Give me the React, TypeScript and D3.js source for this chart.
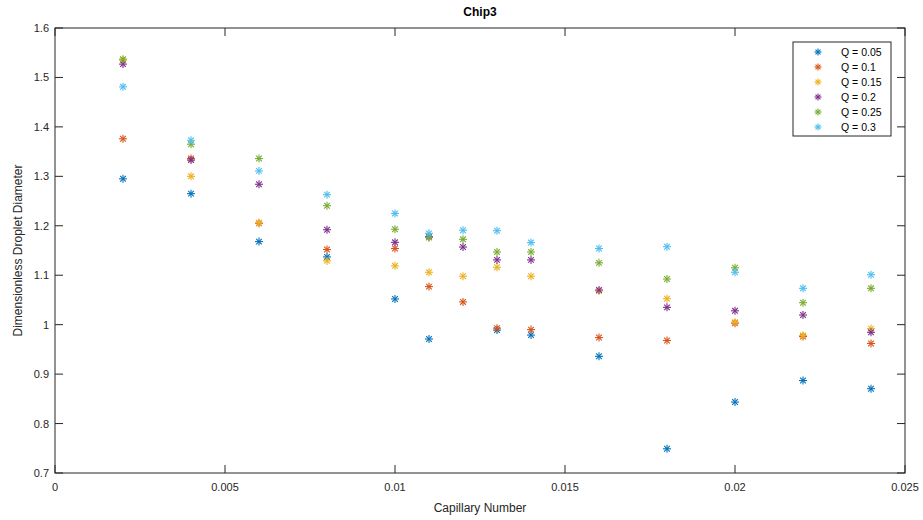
import React from "react";
import * as d3 from "d3";

// Capillary numbers at which droplet diameters were measured
const capillary = [0.002, 0.004, 0.006, 0.008, 0.01, 0.011, 0.012, 0.013, 0.014, 0.016, 0.018, 0.02, 0.022, 0.024];

// Dimensionless droplet diameter for each flow-rate ratio Q
const q005 = [1.295, 1.265, 1.168, 1.137, 1.052, 0.971, null, 0.989, 0.979, 0.936, 0.749, 0.8435, 0.887, 0.8705];
const q010 = [1.376, 1.336, 1.205, 1.152, 1.154, 1.077, 1.046, 0.993, 0.99, 0.974, 0.968, 1.003, 0.976, 0.962];
const q015 = [1.535, 1.3, 1.206, 1.129, 1.119, 1.106, 1.098, 1.116, 1.098, 1.068, 1.0525, 1.005, 0.978, 0.992];
const q020 = [1.527, 1.333, 1.284, 1.192, 1.1665, 1.178, 1.157, 1.131, 1.131, 1.07, 1.035, 1.028, 1.0195, 0.9845];
const q025 = [1.537, 1.365, 1.336, 1.2406, 1.193, 1.176, 1.1726, 1.147, 1.147, 1.125, 1.0923, 1.115, 1.0444, 1.0735];
const q030 = [1.481, 1.373, 1.311, 1.263, 1.225, 1.1847, 1.191, 1.19, 1.166, 1.154, 1.1577, 1.106, 1.0735, 1.101];

const seriesNames = ["Q = 0.05", "Q = 0.1", "Q = 0.15", "Q = 0.2", "Q = 0.25", "Q = 0.3"];
const seriesValues = [q005, q010, q015, q020, q025, q030];
const seriesColors = ["#0072BD", "#D95319", "#EDB120", "#7E2F8E", "#77AC30", "#4DBEEE"];

const xTicks = [0, 0.005, 0.01, 0.015, 0.02, 0.025];
const xTickLabels = ["0", "0.005", "0.01", "0.015", "0.02", "0.025"];
const yTicks = [0.7, 0.8, 0.9, 1.0, 1.1, 1.2, 1.3, 1.4, 1.5, 1.6];
const yTickLabels = ["0.7", "0.8", "0.9", "1", "1.1", "1.2", "1.3", "1.4", "1.5", "1.6"];

const W = 923;
const H = 520;
const margin = { left: 55, right: 18, top: 28, bottom: 47 };
const axisColor = "#262626";
const font = "'Liberation Sans', Arial, Helvetica, sans-serif";

// Eight-armed asterisk marker
function Asterisk({ cx, cy, r, color }: { cx: number; cy: number; r: number; color: string }) {
  const d = r * Math.SQRT1_2;
  return (
    <g stroke={color} strokeWidth={1.1} strokeLinecap="butt">
      <line x1={cx - r} y1={cy} x2={cx + r} y2={cy} />
      <line x1={cx} y1={cy - r} x2={cx} y2={cy + r} />
      <line x1={cx - d} y1={cy - d} x2={cx + d} y2={cy + d} />
      <line x1={cx - d} y1={cy + d} x2={cx + d} y2={cy - d} />
    </g>
  );
}

export default function App() {
  const x = d3.scaleLinear().domain([0, 0.025]).range([margin.left, W - margin.right]);
  const y = d3.scaleLinear().domain([0.7, 1.6]).range([H - margin.bottom, margin.top]);
  const [x0, x1] = x.range();
  const [y0, y1] = y.range();
  const tick = 8;

  const legendX = 793;
  const legendY = 42;
  const legendW = 98;
  const legendRow = 15;

  return (
    <svg
      width={W}
      height={H}
      style={{ position: "fixed", left: 0, top: 0, background: "#fff" }}
      fontFamily={font}
    >
      <rect x={0} y={0} width={W} height={H} fill="#fff" />

      {/* title */}
      <text x={(x0 + x1) / 2} y={16} textAnchor="middle" fontSize={12} fontWeight="bold" fill="#000">
        Chip3
      </text>

      {/* ticks on all four sides */}
      <g stroke={axisColor} strokeWidth={1}>
        {xTicks.map((t, i) => (
          <g key={"xt" + i}>
            <line x1={x(t)} x2={x(t)} y1={y0} y2={y0 - tick} />
            <line x1={x(t)} x2={x(t)} y1={y1} y2={y1 + tick} />
          </g>
        ))}
        {yTicks.map((t, i) => (
          <g key={"yt" + i}>
            <line x1={x0} x2={x0 + tick} y1={y(t)} y2={y(t)} />
            <line x1={x1} x2={x1 - tick} y1={y(t)} y2={y(t)} />
          </g>
        ))}
      </g>

      {/* box */}
      <rect x={x0} y={y1} width={x1 - x0} height={y0 - y1} fill="none" stroke={axisColor} strokeWidth={1} />

      {/* tick labels */}
      <g fontSize={11} fill={axisColor}>
        {xTicks.map((t, i) => (
          <text key={"xl" + i} x={x(t)} y={y0 + 18} textAnchor="middle">
            {xTickLabels[i]}
          </text>
        ))}
        {yTicks.map((t, i) => (
          <text key={"yl" + i} x={x0 - 6} y={y(t) + 4} textAnchor="end">
            {yTickLabels[i]}
          </text>
        ))}
      </g>

      {/* axis labels */}
      <text x={(x0 + x1) / 2} y={512} textAnchor="middle" fontSize={12} fill={axisColor}>
        Capillary Number
      </text>
      <text
        transform={`translate(22, ${(y0 + y1) / 2}) rotate(-90)`}
        textAnchor="middle"
        fontSize={12}
        fill={axisColor}
      >
        Dimensionless Droplet Diameter
      </text>

      {/* data points */}
      {seriesValues.map((vals, si) => (
        <g key={"s" + si}>
          {vals.map((v, i) =>
            v === null ? null : (
              <Asterisk key={i} cx={x(capillary[i])} cy={y(v)} r={4} color={seriesColors[si]} />
            )
          )}
        </g>
      ))}

      {/* legend */}
      <g>
        <rect x={legendX} y={legendY} width={legendW} height={legendRow * 6 + 4} fill="#fff" stroke={axisColor} strokeWidth={1} />
        {seriesNames.map((name, i) => {
          const cy = legendY + 10 + i * legendRow;
          return (
            <g key={"lg" + i}>
              <Asterisk cx={legendX + 25} cy={cy} r={3.5} color={seriesColors[i]} />
              <text x={legendX + 48} y={cy + 4} fontSize={10.5} fill="#000">
                {name}
              </text>
            </g>
          );
        })}
      </g>
    </svg>
  );
}
